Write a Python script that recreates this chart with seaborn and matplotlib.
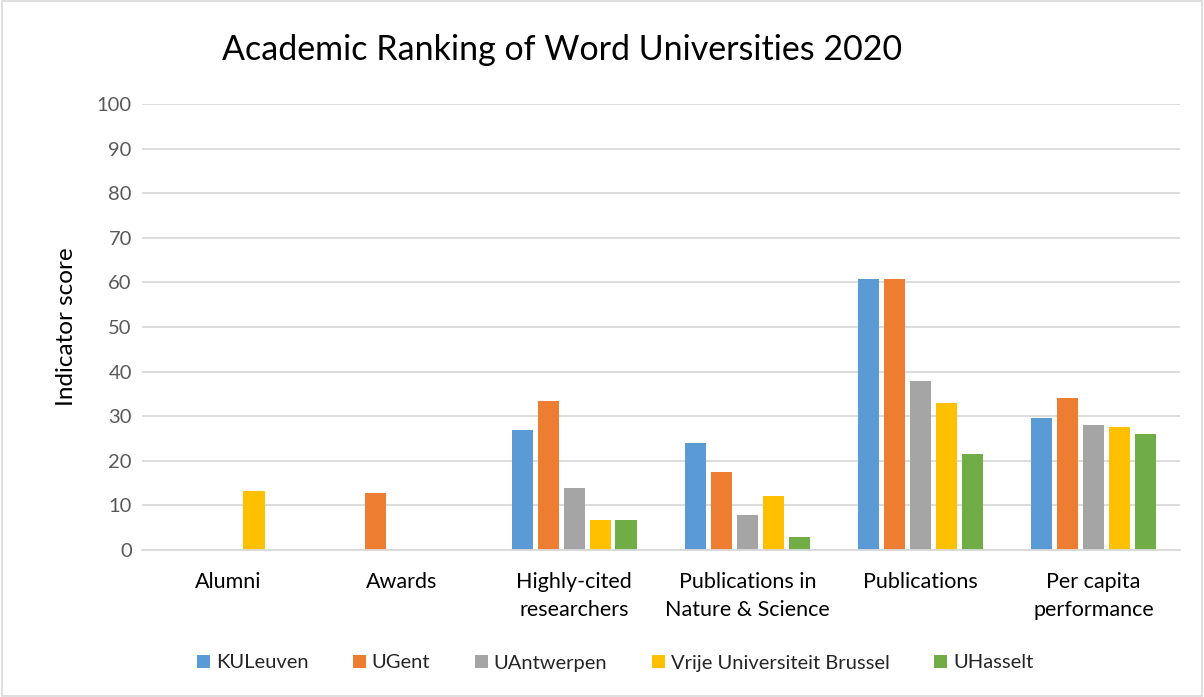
import matplotlib
matplotlib.use("Agg")
import matplotlib.pyplot as plt
import seaborn as sns
import pandas as pd
from matplotlib.patches import Rectangle

categories = ["Alumni", "Awards", "Highly-cited\nresearchers",
              "Publications in\nNature & Science", "Publications",
              "Per capita\nperformance"]
universities = ["KULeuven", "UGent", "UAntwerpen", "Vrije Universiteit Brussel", "UHasselt"]
kuleuven = [0, 0, 27.0, 24.1, 60.8, 29.5]
ugent = [0, 12.8, 33.4, 17.4, 60.8, 34.0]
uantwerpen = [0, 0, 13.9, 7.8, 38.0, 28.0]
vub = [13.2, 0, 6.8, 12.2, 33.0, 27.5]
uhasselt = [0, 0, 6.8, 3.0, 21.5, 26.0]
colors = ["#5B9BD5", "#ED7D31", "#A5A5A5", "#FFC000", "#70AD47"]

series = [kuleuven, ugent, uantwerpen, vub, uhasselt]
rows = []
for uni, vals in zip(universities, series):
    for cat, v in zip(categories, vals):
        rows.append({"category": cat, "university": uni, "score": v})
df = pd.DataFrame(rows)

sns.set_style("white")
plt.rcParams["font.family"] = ["Lato", "DejaVu Sans"]

fig = plt.figure(figsize=(12.04, 6.97), dpi=100)
ax = fig.add_axes([141.5 / 1204, 1 - 550 / 697, (1180 - 141.5) / 1204, (550 - 104) / 697])

sns.barplot(data=df, x="category", y="score", hue="university", order=categories,
            hue_order=universities, palette=colors, width=0.75, gap=0.18,
            linewidth=0, saturation=1, legend=False, ax=ax, errorbar=None)

ax.set_ylim(0, 100)
ax.set_xlim(-0.5, len(categories) - 0.5)
ax.set_yticks(range(0, 101, 10))
ax.yaxis.grid(True, color="#D9D9D9", linewidth=1.3)
ax.set_axisbelow(True)
for s in ["top", "right", "left"]:
    ax.spines[s].set_visible(False)
ax.spines["bottom"].set_color("#D9D9D9")
ax.spines["bottom"].set_linewidth(1.3)
ax.tick_params(axis="both", length=0, colors="#595959")
ax.tick_params(axis="x", pad=15.5, labelsize=15.5)
ax.tick_params(axis="y", pad=7, labelsize=14.5)
for lab in ax.get_xticklabels():
    lab.set_color("#000000")
    lab.set_linespacing(1.5)
ax.set_xlabel("")
ax.set_ylabel("Indicator score", fontsize=17.5, color="#000000", labelpad=14)

fig.text(562 / 1204, 1 - 50 / 697, "Academic Ranking of Word Universities 2020",
         ha="center", va="center", fontsize=24.5, color="#000000")

handles = [Rectangle((0, 0), 1, 1, facecolor=c, edgecolor="none") for c in colors]
fig.legend(handles, universities, loc="center", bbox_to_anchor=(615 / 1204, 1 - 663 / 697),
           ncol=5, frameon=False, fontsize=14.5, handlelength=0.65, handleheight=0.65,
           handletextpad=0.3, columnspacing=2.2)

fig.add_artist(Rectangle((0.002, 0.002), 0.996, 0.996, transform=fig.transFigure,
                         fill=False, edgecolor="#D9D9D9", linewidth=1.2))

fig.savefig("out.png", dpi=100)
